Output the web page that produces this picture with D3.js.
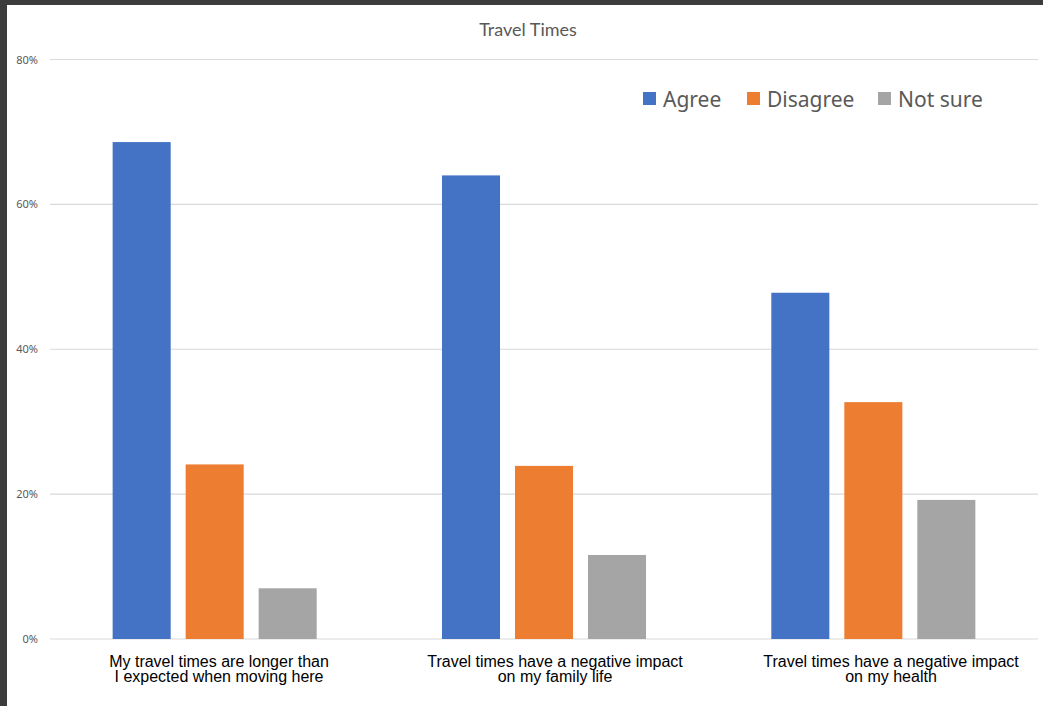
<!DOCTYPE html>
<html>
<head>
<meta charset="utf-8">
<script src="https://cdn.jsdelivr.net/npm/d3@7"></script>
<style>
  html, body { margin: 0; padding: 0; background: #ffffff; }
  svg { display: block; }
</style>
</head>
<body>
<script>
// ---- data ----
const categories = [
  ["My travel times are longer than", "I expected when moving here"],
  ["Travel times have a negative impact", "on my family life"],
  ["Travel times have a negative impact", "on my health"]
];
const seriesNames = ["Agree", "Disagree", "Not sure"];
const agree    = [68.6, 64.0, 47.8];
const disagree = [24.1, 23.9, 32.7];
const notSure  = [7.0, 11.6, 19.2];
const yTicks = [0, 20, 40, 60, 80];
const title = "Travel Times";

const seriesValues = [agree, disagree, notSure];
const colors = ["#4472C4", "#ED7D31", "#A5A5A5"];

const W = 1043, H = 706;
const svg = d3.select("body").append("svg").attr("width", W).attr("height", H);

// background and dark frame
svg.append("rect").attr("x", 0).attr("y", 0).attr("width", W).attr("height", H).attr("fill", "#3c3c3c");
svg.append("rect").attr("x", 7).attr("y", 5).attr("width", W - 7).attr("height", H - 5).attr("fill", "#ffffff");

const plotL = 50, plotR = 1038, plotT = 59.5, plotB = 639;
const y = d3.scaleLinear().domain([0, 80]).range([plotB, plotT]);
const catIdx = categories.map((d, i) => i);
const x0 = d3.scaleBand().domain(catIdx).range([plotL, plotR]).paddingInner(0).paddingOuter(0);
const x1 = d3.scaleBand().domain(seriesNames).range([0, x0.bandwidth()]).paddingInner(0.205).paddingOuter(0.858);
// label axis (slightly offset in the reference)
const xl = d3.scaleBand().domain(catIdx).range([51, 1059]);

// grid
const grid = svg.append("g");
grid.selectAll("line").data(yTicks).join("line")
  .attr("x1", plotL).attr("x2", plotR)
  .attr("y1", d => y(d)).attr("y2", d => y(d))
  .attr("stroke", "#d9d9d9").attr("stroke-width", 1.2);

// y axis labels
const yAxis = d3.axisLeft(y).tickValues(yTicks).tickFormat(d => d + "%").tickSize(0).tickPadding(0);
const ya = svg.append("g").attr("transform", `translate(38,0)`).call(yAxis);
ya.select(".domain").remove();
ya.selectAll("text").attr("fill", "#595959").attr("font-family", "Noto Sans").attr("font-size", 11);

// bars
const groups = svg.append("g").selectAll("g").data(catIdx).join("g")
  .attr("transform", d => `translate(${x0(d)},0)`);
groups.selectAll("rect").data(ci => seriesNames.map((s, si) => ({ s, si, v: seriesValues[si][ci] })))
  .join("rect")
  .attr("x", d => x1(d.s))
  .attr("width", x1.bandwidth())
  .attr("y", d => y(d.v))
  .attr("height", d => y(0) - y(d.v))
  .attr("fill", d => colors[d.si]);

// x labels
const xlab = svg.append("g").selectAll("text").data(catIdx).join("text")
  .attr("x", d => xl(d) + xl.bandwidth() / 2)
  .attr("y", 666.5)
  .attr("text-anchor", "middle")
  .attr("font-family", "Liberation Sans, Arial, sans-serif")
  .attr("font-size", 16)
  .attr("fill", "#000000");
xlab.each(function(d) {
  const t = d3.select(this);
  categories[d].forEach((line, li) => {
    t.append("tspan").attr("x", xl(d) + xl.bandwidth() / 2).attr("dy", li === 0 ? 0 : 15).text(line);
  });
});

// title
svg.append("text").attr("x", 528).attr("y", 35.5).attr("text-anchor", "middle")
  .attr("font-family", "Lato, sans-serif").attr("font-size", 18).attr("fill", "#595959").text(title);

// legend
const legendX = [643, 747, 878];
const lg = svg.append("g").selectAll("g").data(seriesNames).join("g")
  .attr("transform", (d, i) => `translate(${legendX[i]},0)`);
lg.append("rect").attr("x", 0).attr("y", 92).attr("width", 13).attr("height", 13)
  .attr("fill", (d, i) => colors[i]);
lg.append("text").attr("x", 20).attr("y", 106.5)
  .attr("font-family", "Noto Sans, sans-serif").attr("font-size", 21).attr("fill", "#595959")
  .text(d => d);
</script>
</body>
</html>
